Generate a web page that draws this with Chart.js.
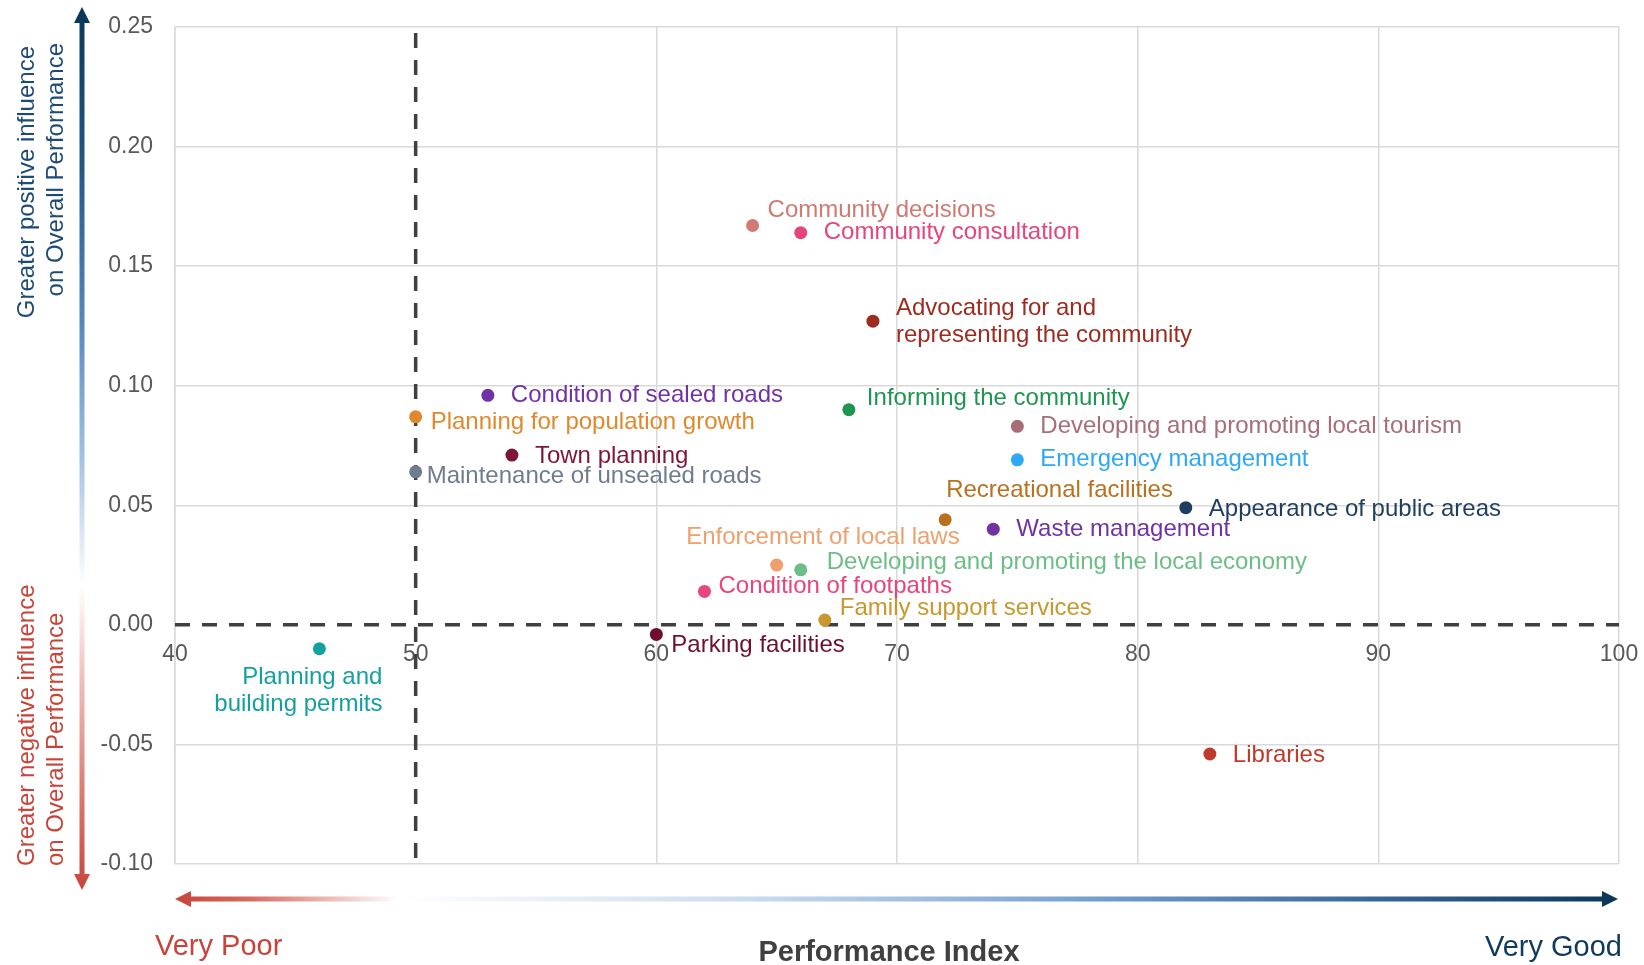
<!DOCTYPE html>
<html>
<head>
<meta charset="utf-8">
<script src="https://cdn.jsdelivr.net/npm/chart.js@4.4.0/dist/chart.umd.min.js"></script>
<style>
  html, body { margin: 0; padding: 0; background: #ffffff; }
  #wrap { width: 1644px; height: 965px; position: relative; }
  canvas { display: block; }
</style>
</head>
<body>
<div id="wrap"><canvas id="chart" width="1644" height="965"></canvas></div>
<script>
// ---------------- DATA ----------------
const categories = [
  "Community decisions",
  "Community consultation",
  "Advocating for and\nrepresenting the community",
  "Condition of sealed roads",
  "Planning for population growth",
  "Town planning",
  "Maintenance of unsealed roads",
  "Informing the community",
  "Developing and promoting local tourism",
  "Emergency management",
  "Recreational facilities",
  "Appearance of public areas",
  "Waste management",
  "Enforcement of local laws",
  "Developing and promoting the local economy",
  "Condition of footpaths",
  "Family support services",
  "Parking facilities",
  "Planning and\nbuilding permits",
  "Libraries"
];
const performanceIndex = [64, 66, 69, 53, 50, 54, 50, 68, 75, 75, 72, 82, 74, 65, 66, 62, 67, 60, 46, 83];
const influence = [0.167, 0.164, 0.127, 0.096, 0.087, 0.071, 0.064, 0.090, 0.083, 0.069, 0.044, 0.049, 0.040, 0.025, 0.023, 0.014, 0.002, -0.004, -0.010, -0.054];
const pointColors = [
  "#d07a72", "#e8447c", "#9c2b20", "#7232a4", "#e0892c", "#7e1539", "#6f7c8f",
  "#1e9550", "#a76e78", "#2ea8f5", "#b8711e", "#1f3d5e", "#7232a4", "#eea06e",
  "#6cbe86", "#e8457a", "#c8982e", "#6e0f2f", "#14a0a0", "#c0392b"
];
const xTicks = [40, 50, 60, 70, 80, 90, 100];
const yTicks = [-0.10, -0.05, 0.00, 0.05, 0.10, 0.15, 0.20, 0.25];
const thresholdX = 50;          // vertical reference line (performance index)
const thresholdYTop = 0.2475;   // top end of the vertical reference line
const thresholdY = 0;           // horizontal reference line (influence)
const yLabelPositive = ["Greater positive influence", "on Overall Performance"];
const yLabelNegative = ["Greater negative influence", "on Overall Performance"];
const xTitle = "Performance Index";
const xLow = "Very Poor";
const xHigh = "Very Good";

// ---------------- LABEL PLACEMENT (styles, px offsets from the point) ----------------
const labelPlacement = [
  [15, -15, "left"], [23, 0, "left"], [23, -13, "left"], [23, 0, "left"], [15, 6, "left"],
  [23, 1, "left"], [11, 5, "left"], [18, -11, "left"], [23, 0, "left"], [23, 0, "left"],
  [1, -29, "left"], [23, 2, "left"], [23, 0, "left"], [183, -28, "right"], [26, -7, "left"],
  [14, -5, "left"], [15, -12, "left"], [15, 11, "left"], [63, 29, "right"], [23, 1, "left"]
];

const FONT = '"Liberation Sans", Arial, Helvetica, sans-serif';

const pointData = performanceIndex.map((v, i) => ({ x: v, y: influence[i] }));

const labelPlugin = {
  id: 'pointLabels',
  afterDatasetsDraw(chart) {
    const ctx = chart.ctx;
    const meta = chart.getDatasetMeta(0);
    ctx.save();
    ctx.font = '24px ' + FONT;
    ctx.textBaseline = 'middle';
    meta.data.forEach((pt, i) => {
      const [dx, dy, align] = labelPlacement[i];
      const lines = categories[i].split('\n');
      ctx.fillStyle = pointColors[i];
      ctx.textAlign = align;
      lines.forEach((ln, k) => {
        ctx.fillText(ln, pt.x + dx, pt.y + dy + k * 27);
      });
    });
    ctx.restore();
  }
};

function drawArrowV(ctx, x, yTop, yBot, grad) {
  const head = 16, half = 8, shaft = 5;
  ctx.fillStyle = grad;
  ctx.fillRect(x - shaft / 2, yTop + head - 1, shaft, (yBot - yTop) - 2 * head + 2);
  ctx.beginPath();
  ctx.moveTo(x, yTop); ctx.lineTo(x - half, yTop + head); ctx.lineTo(x + half, yTop + head); ctx.closePath();
  ctx.fill();
  ctx.beginPath();
  ctx.moveTo(x, yBot); ctx.lineTo(x - half, yBot - head); ctx.lineTo(x + half, yBot - head); ctx.closePath();
  ctx.fill();
}
function drawArrowH(ctx, y, xL, xR, grad) {
  const head = 16, half = 8, shaft = 5;
  ctx.fillStyle = grad;
  ctx.fillRect(xL + head - 1, y - shaft / 2, (xR - xL) - 2 * head + 2, shaft);
  ctx.beginPath();
  ctx.moveTo(xL, y); ctx.lineTo(xL + head, y - half); ctx.lineTo(xL + head, y + half); ctx.closePath();
  ctx.fill();
  ctx.beginPath();
  ctx.moveTo(xR, y); ctx.lineTo(xR - head, y - half); ctx.lineTo(xR - head, y + half); ctx.closePath();
  ctx.fill();
}

const decorPlugin = {
  id: 'decor',
  afterDraw(chart) {
    const ctx = chart.ctx;
    const ca = chart.chartArea;
    ctx.save();
    // vertical gradient arrow
    const vx = 82, vTop = 7, vBot = 890;
    const gv = ctx.createLinearGradient(0, vTop, 0, vBot);
    gv.addColorStop(0, '#0b3659');
    gv.addColorStop(0.18, '#245785');
    gv.addColorStop(0.36, '#5589c0');
    gv.addColorStop(0.52, '#a9c5e3');
    gv.addColorStop(0.655, '#ffffff');
    gv.addColorStop(0.76, '#f0c0ba');
    gv.addColorStop(0.9, '#d8766b');
    gv.addColorStop(1, '#c8443a');
    drawArrowV(ctx, vx, vTop, vBot, gv);

    // horizontal gradient arrow
    const hy = 899, hL = ca.left, hR = ca.right - 1;
    const gh = ctx.createLinearGradient(hL, 0, hR, 0);
    gh.addColorStop(0, '#c8443a');
    gh.addColorStop(0.05, '#d7695f');
    gh.addColorStop(0.155, '#ffffff');
    gh.addColorStop(0.4, '#c9dbee');
    gh.addColorStop(0.62, '#7aa3d0');
    gh.addColorStop(0.82, '#3a6a9a');
    gh.addColorStop(1, '#0b3659');
    drawArrowH(ctx, hy, hL, hR, gh);

    // rotated axis descriptions
    ctx.font = '24px ' + FONT;
    ctx.textBaseline = 'middle';
    ctx.save();
    ctx.translate(27, 0);
    ctx.rotate(-Math.PI / 2);
    ctx.fillStyle = '#1c4b76';
    ctx.textAlign = 'right';
    ctx.fillText(yLabelPositive[0], -46, 0);
    ctx.fillStyle = '#c8443a';
    ctx.textAlign = 'left';
    ctx.fillText(yLabelNegative[0], -866, 0);
    ctx.restore();
    ctx.save();
    ctx.translate(56, 0);
    ctx.rotate(-Math.PI / 2);
    ctx.fillStyle = '#1c4b76';
    ctx.textAlign = 'right';
    ctx.fillText(yLabelPositive[1], -43, 0);
    ctx.fillStyle = '#c8443a';
    ctx.textAlign = 'left';
    ctx.fillText(yLabelNegative[1], -866, 0);
    ctx.restore();

    // bottom texts
    ctx.textBaseline = 'alphabetic';
    ctx.font = '29px ' + FONT;
    ctx.fillStyle = '#c8443a';
    ctx.textAlign = 'left';
    ctx.fillText(xLow, 155, 955);
    ctx.fillStyle = '#0f3a5e';
    ctx.textAlign = 'right';
    ctx.fillText(xHigh, 1622, 956);
    ctx.font = 'bold 29px ' + FONT;
    ctx.fillStyle = '#404040';
    ctx.textAlign = 'center';
    ctx.fillText(xTitle, 889, 961);
    ctx.restore();
  }
};

const gridColorX = c => (c.tick && c.tick.value === thresholdX) ? 'rgba(0,0,0,0)' : '#d9d9d9';
const gridColorY = c => (c.tick && c.tick.value === thresholdY) ? 'rgba(0,0,0,0)' : '#d9d9d9';

new Chart(document.getElementById('chart'), {
  type: 'scatter',
  data: {
    datasets: [
      {
        label: 'Service areas',
        data: pointData,
        backgroundColor: pointColors,
        borderColor: pointColors,
        borderWidth: 0,
        pointRadius: 6.5,
        pointHoverRadius: 6.5
      },
      {
        label: 'Threshold X',
        data: [{ x: thresholdX, y: thresholdYTop }, { x: thresholdX, y: yTicks[0] }],
        showLine: true,
        borderColor: '#404040',
        borderWidth: 3.5,
        borderDash: [15, 12],
        pointRadius: 0,
        fill: false
      },
      {
        label: 'Threshold Y',
        data: [{ x: xTicks[0], y: thresholdY }, { x: xTicks[xTicks.length - 1], y: thresholdY }],
        showLine: true,
        borderColor: '#404040',
        borderWidth: 3.5,
        borderDash: [15, 12],
        pointRadius: 0,
        fill: false
      }
    ]
  },
  options: {
    responsive: false,
    animation: false,
    devicePixelRatio: 1,
    layout: { autoPadding: false, padding: { left: 0, top: 27, right: 25, bottom: 101 } },
    plugins: { legend: { display: false }, tooltip: { enabled: false } },
    scales: {
      x: {
        type: 'linear',
        position: { y: 0 },
        min: 40, max: 100,
        afterBuildTicks: s => { s.ticks = xTicks.map(v => ({ value: v })); },
        afterFit: s => { s.paddingLeft = 0; s.paddingRight = 0; s.paddingTop = 0; s.paddingBottom = 0; },
        grid: { color: gridColorX, lineWidth: 1.5, drawTicks: false },
        border: { display: false },
        ticks: { padding: 16, color: '#595959', font: { family: FONT, size: 23 }, maxRotation: 0, autoSkip: false }
      },
      y: {
        type: 'linear',
        position: 'left',
        min: -0.10, max: 0.25,
        afterBuildTicks: s => { s.ticks = yTicks.map(v => ({ value: v })); },
        afterFit: s => { s.width = 175; s.paddingTop = 0; s.paddingBottom = 0; s.paddingLeft = 0; s.paddingRight = 0; },
        grid: { color: gridColorY, lineWidth: 1.5, drawTicks: false },
        border: { display: true, color: '#d9d9d9', width: 1.5 },
        ticks: { padding: 22, color: '#595959', font: { family: FONT, size: 23 }, callback: v => Number(v).toFixed(2) }
      }
    }
  },
  plugins: [labelPlugin, decorPlugin]
});
</script>
</body>
</html>
